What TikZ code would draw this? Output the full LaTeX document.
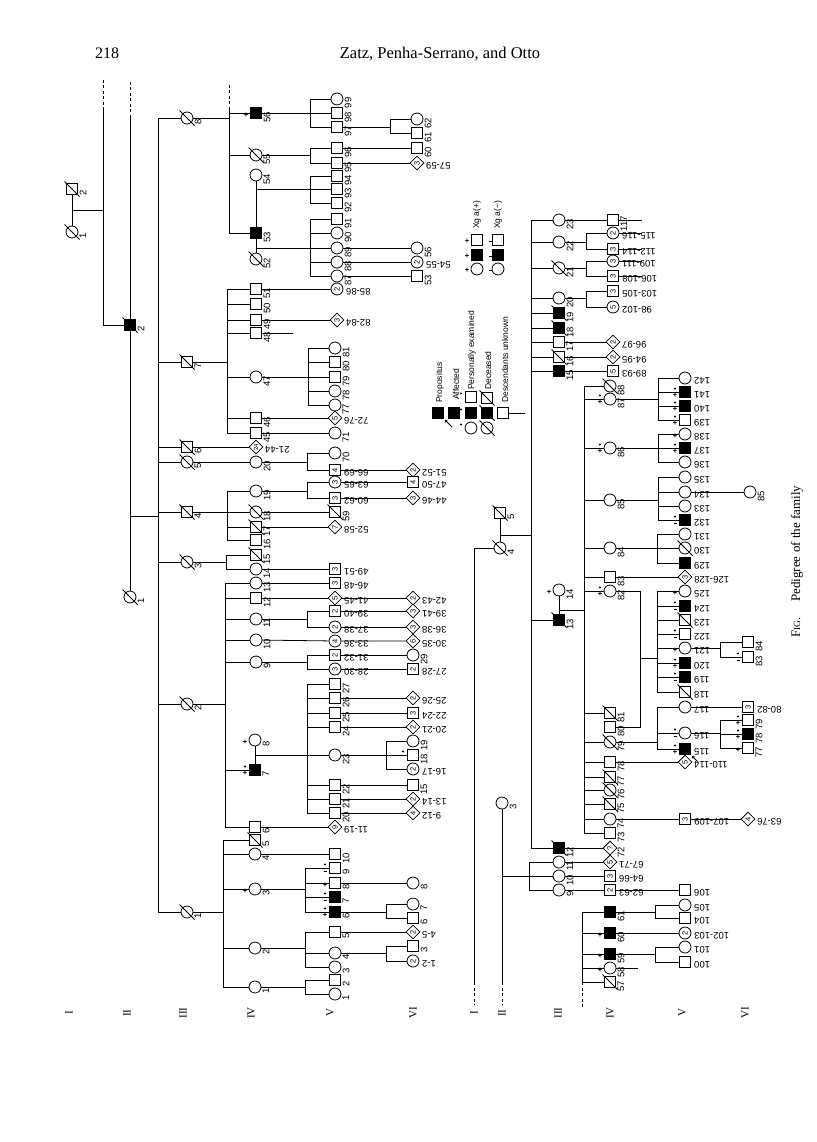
\documentclass[tikz,border=0pt]{standalone}
\usepackage{fontspec}
\setmainfont{Liberation Serif}
\newfontfamily\sansf{Liberation Sans}
\usetikzlibrary{shapes.geometric,arrows.meta}
\newcommand\lf{\sansf\fontsize{9.5}{10}\selectfont}
\newcommand\cf{\sansf\fontsize{7.5}{7.5}\selectfont}
\newcommand\mf{\sansf\bfseries\fontsize{7.5}{7.5}\selectfont}
\tikzset{
 ln/.style={line width=0.8pt},
 dsh/.style={line width=0.8pt, dash pattern=on 3pt off 2.5pt},
 base/.style={draw, line width=0.8pt, fill=white, inner sep=0pt, font=\cf, rotate=90},
 ma/.style={base, rectangle, minimum size=11pt},
 fe/.style={base, circle, minimum size=12pt},
 un/.style={base, diamond, minimum size=14pt},
 aff/.style={fill=black},
 lab/.style={font=\lf, rotate=90, anchor=north, inner sep=0pt},
 labr/.style={font=\lf, rotate=180, anchor=east, inner sep=0pt},
 gen/.style={font=\fontsize{11}{11}\selectfont, rotate=90, inner sep=0pt},
 leg/.style={font=\sansf\fontsize{8.5}{9}\selectfont, rotate=90, anchor=west, inner sep=0pt},
 mk/.style={font=\mf, inner sep=0pt},
}
% individual with label rotated 90
\newcommand\indv[5]{\node[#1] (#2) at (#3) {#4};\node[lab] (t#2) at ([xshift=7.5pt,yshift=-4pt]#2.center) {#5};}
% individual with label rotated 180
\newcommand\rng[5]{\node[#1] (#2) at (#3) {#4};\node[labr] (t#2) at ([xshift=9pt,yshift=-3pt]#2.center) {#5};}
\newcommand\dcd[1]{\draw[ln] ([shift={(-7.5pt,7.5pt)}]#1.center) -- ([shift={(7.5pt,-7.5pt)}]#1.center);}
\newcommand\dcdl[1]{\foreach \q in {#1}{\dcd{\q}}}
\newcommand\sib[4]{\draw[ln] (#1) -- (#1-|#2,0); \draw[ln] (#2,0|-#3) -- (#2,0|-#4);}
\newcommand\kids[2]{\foreach \kid in {#2}{\draw[ln] (#1,0|-\kid) -- (\kid);}}
\newcommand\mkP[1]{\node[mk] (p#1) at ([xshift=-10pt,yshift=-2pt]#1.center) {+};}
\newcommand\mkD[1]{\fill ([xshift=-10pt,yshift=3.5pt]#1.center) circle (1.2pt);}
\newcommand\mkDP[1]{\mkD{#1}\node[mk] (p#1) at ([xshift=-10pt,yshift=-3pt]#1.center) {+};}
\newcommand\mkDM[1]{\mkD{#1}\draw[line width=0.9pt] ([xshift=-11.5pt,yshift=-3pt]#1.center) -- ++(3pt,0);}
\begin{document}
\begin{tikzpicture}[x=1pt,y=-1pt]
\useasboundingbox (0,0) rectangle (816,1142);
\fill[white] (0,0) rectangle (816,1142);
% header and caption
\node[font=\fontsize{16}{16}\selectfont] (pg) at (107,53) {218};
\node[font=\fontsize{16.5}{16.5}\selectfont] (hd) at (440,54) {Zatz, Penha-Serrano, and Otto};
\node[rotate=90, anchor=west, inner sep=0pt, font=\fontsize{13}{13}\selectfont] (cap) at (797,638) {F{\fontsize{9.5}{9.5}\selectfont IG}.\hspace{1.2em}Pedigree of the family};
% generation labels
\node[gen] (ga1) at (69,1013) {I};
\node[gen] (ga2) at (127,1013) {II};
\node[gen] (ga3) at (183,1013) {III};
\node[gen] (ga4) at (251,1013) {IV};
\node[gen] (ga5) at (330,1013) {V};
\node[gen] (ga6) at (413,1013) {VI};
\node[gen] (gb1) at (474,1013) {I};
\node[gen] (gb2) at (502,1013) {II};
\node[gen] (gb3) at (558,1013) {III};
\node[gen] (gb4) at (610,1013) {IV};
\node[gen] (gb5) at (682,1013) {V};
\node[gen] (gb6) at (745,1013) {VI};

%%%%%%%%%%%% UPPER PEDIGREE %%%%%%%%%%%%
\indv{fe}{g1n1}{72,232}{}{1}
\indv{ma}{g1n2}{72,189}{}{2}
\draw[ln] (g1n2) -- (g1n1);
\coordinate (c1) at (72,210);
\draw[ln] (c1) -- (c1-|103,0);
\draw[dsh] (103,80) -- (103,110);
\draw[ln] (103,110) -- (103,325);
\indv{ma,aff}{g2n2}{130,325}{}{2}
\indv{fe}{g2n1}{130,597}{}{1}
\draw[ln] (103,325) -- (g2n2);
\draw[dsh] (130,82) -- (130,115);
\draw[ln] (130,115) -- (g2n2);
\draw[ln] (g2n2) -- (g2n1);
\coordinate (c2) at (130,516);
\draw[ln] (c2) -- (c2-|158,0);
\draw[ln] (158,118) -- (158,912);
\indv{fe}{g3n8}{187,118}{}{8}
\indv{ma}{g3n7}{187,362}{}{7}
\indv{ma}{g3n6}{187,447}{}{6}
\indv{fe}{g3n5}{187,462}{}{5}
\indv{ma}{g3n4}{187,512}{}{4}
\indv{fe}{g3n3}{187,562}{}{3}
\indv{fe}{g3n2}{187,704}{}{2}
\indv{fe}{g3n1}{187,912}{}{1}
\kids{158}{g3n8,g3n7,g3n6,g3n5,g3n4,g3n3,g3n2,g3n1}

% III-8
\draw[ln] (g3n8) -- (g3n8-|229,0);
\draw[dsh] (229,85) -- (229,110);
\draw[ln] (229,110) -- (229,233);
\indv{ma,aff}{g4n56}{256,113}{}{56}
\indv{fe}{g4n55}{256,155}{}{55}
\indv{fe}{g4n54}{256,175}{}{54}
\indv{ma,aff}{g4n53}{256,233}{}{53}
\indv{fe}{g4n52}{256,259}{}{52}
\kids{229}{g4n56,g4n55,g4n53}
\draw[ln] (g4n54) -- (g4n53) -- (g4n52);
\coordinate (m54) at (256,189);
\coordinate (m52) at (256,248);
\indv{fe}{g5n99}{337,99}{}{99}
\indv{ma}{g5n98}{337,113}{}{98}
\indv{ma}{g5n97}{337,127}{}{97}
\indv{ma}{g5n96}{337,148}{}{96}
\indv{ma}{g5n95}{337,163}{}{95}
\indv{ma}{g5n94}{337,176}{}{94}
\indv{ma}{g5n93}{337,189}{}{93}
\indv{ma}{g5n92}{337,203}{}{92}
\indv{ma}{g5n91}{337,219}{}{91}
\indv{fe}{g5n90}{337,233}{}{90}
\indv{fe}{g5n89}{337,248}{}{89}
\indv{fe}{g5n88}{337,262}{}{88}
\indv{fe}{g5n87}{337,276}{}{87}
\sib{g4n56}{310}{g5n99}{g5n97}\kids{310}{g5n99,g5n98,g5n97}
\sib{g4n55}{310}{g5n96}{g5n95}\kids{310}{g5n96,g5n95}
\sib{m54}{310}{g5n94}{g5n92}\kids{310}{g5n94,g5n93,g5n92}
\sib{m52}{310}{g5n91}{g5n87}\kids{310}{g5n91,g5n90,g5n89,g5n88,g5n87}
\indv{fe}{g6n62}{417,119}{}{62}
\indv{ma}{g6n61}{417,133}{}{61}
\indv{ma}{g6n60}{417,148}{}{60}
\rng{un}{g6r57}{417,163}{3}{57-59}
\indv{fe}{g6n56}{417,248}{}{56}
\rng{fe}{g6r54}{417,262}{2}{54-55}
\indv{ma}{g6n53}{417,276}{}{53}
\sib{g5n97}{390}{g6n62}{g6n61}\kids{390}{g6n62,g6n61}
\draw[ln] (g5n96) -- (g6n60);
\draw[ln] (g5n95) -- (g6r57);
\draw[ln] (g5n89) -- (g6n56);
\draw[ln] (g5n88) -- (g6r54);
\draw[ln] (g5n87) -- (g6n53);

% III-7
\indv{ma}{g4n51}{256,289}{}{51}
\indv{ma}{g4n50}{256,304}{}{50}
\indv{ma}{g4n49}{256,320}{}{49}
\indv{ma}{g4n48}{256,333}{}{48}
\indv{fe}{g4n47}{256,377}{}{47}
\indv{ma}{g4n46}{256,418}{}{46}
\indv{ma}{g4n45}{256,433}{}{45}
\sib{g3n7}{227}{g4n51}{g4n45}\kids{227}{g4n51,g4n50,g4n49,g4n48,g4n47,g4n46,g4n45}
\rng{fe}{g5r85}{337,289}{2}{85-86}
\rng{un}{g5r82}{337,320}{3}{82-84}
\draw[ln] (g4n51) -- (g5r85);
\draw[ln] (g4n49) -- (g5r82);
\draw[ln] (g4n48) -- (g4n48-|293,0);
\indv{fe}{g5n81}{335,348}{}{81}
\indv{ma}{g5n80}{335,362}{}{80}
\indv{ma}{g5n79}{335,377}{}{79}
\indv{fe}{g5n78}{335,391}{}{78}
\indv{fe}{g5n77}{335,405}{}{77}
\sib{g4n47}{308}{g5n81}{g5n77}\kids{308}{g5n81,g5n80,g5n79,g5n78,g5n77}
\rng{un}{g5r72}{335,418}{5}{72-76}
\indv{fe}{g5n71}{335,433}{}{71}
\draw[ln] (g4n46) -- (g5r72);
\draw[ln] (g4n45) -- (g5n71);

% III-6, III-5
\rng{un,font=\sansf\fontsize{6}{6}\selectfont}{g4r21}{256,447}{24}{21-44}
\draw[ln] (g3n6) -- (g4r21);
\indv{fe}{g4n20}{256,462}{}{20}
\draw[ln] (g3n5) -- (g4n20);
\indv{fe}{g5n70}{335,453}{}{70}
\rng{ma}{g5r66}{335,470}{4}{66-69}
\sib{g4n20}{307}{g5n70}{g5r66}\kids{307}{g5n70,g5r66}
\rng{un}{g6r51}{413,470}{2}{51-52}
\draw[ln] (g5r66) -- (g6r51);

% III-4
\indv{fe}{g4n19}{256,491}{}{19}
\indv{fe}{g4n18}{256,512}{}{18}
\indv{ma}{g4n17}{256,527}{}{17}
\indv{ma}{g4n16}{256,540}{}{16}
\sib{g3n4}{227}{g4n19}{g4n16}\kids{227}{g4n19,g4n18,g4n17,g4n16}
\rng{fe}{g5r63}{335,482}{3}{63-65}
\rng{ma}{g5r60}{335,498}{3}{60-62}
\sib{g4n19}{307}{g5r63}{g5r60}\kids{307}{g5r63,g5r60}
\rng{ma}{g6r47}{413,482}{4}{47-50}
\rng{un}{g6r44}{413,498}{3}{44-46}
\draw[ln] (g5r63) -- (g6r47);
\draw[ln] (g5r60) -- (g6r44);
\indv{ma}{g5n59}{335,512}{}{59}
\draw[ln] (g4n18) -- (g5n59);
\rng{un}{g5r52}{335,527}{7}{52-58}
\draw[ln] (g4n17) -- (g5r52);

% III-3
\indv{ma}{g4n15}{256,555}{}{15}
\indv{fe}{g4n14}{256,569}{}{14}
\sib{g3n3}{226}{g4n15}{g4n14}\kids{226}{g4n15,g4n14}
\rng{ma}{g5r49}{335,569}{3}{49-51}
\draw[ln] (g4n14) -- (g5r49);

% III-2
\indv{fe}{g4n13}{256,583}{}{13}
\indv{ma}{g4n12}{256,598}{}{12}
\indv{fe}{g4n11}{256,619}{}{11}
\indv{fe}{g4n10}{256,640}{}{10}
\indv{fe}{g4n9}{256,662}{}{9}
\indv{fe}{g4n8}{255,740}{}{8}
\indv{ma,aff}{g4n7}{255,770}{}{7}
\indv{ma}{g4n6}{255,827}{}{6}
\sib{g3n2}{225}{g4n13}{g4n6}\kids{225}{g4n13,g4n12,g4n11,g4n10,g4n9,g4n7,g4n6}
\rng{ma}{g5r46}{335,583}{3}{46-48}
\rng{un}{g5r41}{335,598}{5}{41-45}
\rng{un}{g6r42}{413,598}{2}{42-43}
\draw[ln] (g4n13) -- (g5r46);
\draw[ln] (g4n12) -- (g5r41) -- (g6r42);
\rng{ma}{g5r39}{335,611}{2}{39-40}
\rng{fe}{g5r37}{335,627}{2}{37-38}
\sib{g4n11}{307}{g5r39}{g5r37}\kids{307}{g5r39,g5r37}
\rng{un}{g6r39}{413,611}{3}{39-41}
\rng{un}{g6r36}{413,627}{3}{36-38}
\draw[ln] (g5r39) -- (g6r39);
\draw[ln] (g5r37) -- (g6r36);
\rng{fe}{g5r33}{335,641}{4}{33-36}
\rng{un}{g6r30}{413,641}{6}{30-35}
\draw[ln] (g4n10) -- (g5r33) -- (g6r30);
\rng{ma}{g5r31}{335,655}{2}{31-32}
\rng{fe}{g5r28}{335,669}{3}{28-30}
\sib{g4n9}{307}{g5r31}{g5r28}\kids{307}{g5r31,g5r28}
\indv{fe}{g6n29}{413,655}{}{29}
\rng{ma}{g6r27}{413,669}{2}{27-28}
\draw[ln] (g5r31) -- (g6n29);
\draw[ln] (g5r28) -- (g6r27);
\draw[ln] (g4n8) -- (g4n7);
\coordinate (m7) at (255,755);
\indv{ma}{g5n27}{335,684}{}{27}
\indv{ma}{g5n26}{335,698}{}{26}
\indv{ma}{g5n25}{335,713}{}{25}
\indv{ma}{g5n24}{335,727}{}{24}
\indv{fe}{g5n23}{335,755}{}{23}
\indv{ma}{g5n22}{335,785}{}{22}
\indv{ma}{g5n21}{335,799}{}{21}
\indv{ma}{g5n20}{335,813}{}{20}
\sib{m7}{307}{g5n27}{g5n20}\kids{307}{g5n27,g5n26,g5n25,g5n24,g5n23,g5n22,g5n21,g5n20}
\rng{un}{g6r25}{413,698}{2}{25-26}
\rng{ma}{g6r22}{413,713}{3}{22-24}
\rng{un}{g6r20}{413,727}{2}{20-21}
\draw[ln] (g5n26) -- (g6r25);
\draw[ln] (g5n25) -- (g6r22);
\draw[ln] (g5n24) -- (g6r20);
\indv{fe}{g6n19}{413,741}{}{19}
\indv{ma}{g6n18}{413,755}{}{18}
\rng{fe}{g6r16}{413,769}{2}{16-17}
\sib{g5n23}{386}{g6n19}{g6r16}\kids{386}{g6n19,g6n18,g6r16}
\indv{ma}{g6n15}{413,785}{}{15}
\rng{un}{g6r13}{413,799}{2}{13-14}
\rng{un}{g6r9}{413,813}{4}{9-12}
\draw[ln] (g5n22) -- (g6n15);
\draw[ln] (g5n21) -- (g6r13);
\draw[ln] (g5n20) -- (g6r9);
\rng{un}{g5r11}{335,827}{9}{11-19}
\draw[ln] (g4n6) -- (g5r11);

% III-1
\indv{ma}{g4n5}{255,840}{}{5}
\indv{fe}{g4n4}{255,854}{}{4}
\indv{fe}{g4n3}{255,889}{}{3}
\indv{fe}{g4n2}{255,948}{}{2}
\indv{fe}{g4n1}{255,987}{}{1}
\sib{g3n1}{223}{g4n5}{g4n1}\kids{223}{g4n5,g4n4,g4n3,g4n2,g4n1}
\indv{ma}{g5n10}{335,854}{}{10}
\draw[ln] (g4n4) -- (g5n10);
\indv{ma}{g5n9}{335,868}{}{9}
\indv{ma}{g5n8}{335,883}{}{8}
\indv{ma,aff}{g5n7}{335,897}{}{7}
\indv{ma,aff}{g5n6}{335,912}{}{6}
\sib{g4n3}{305}{g5n9}{g5n6}\kids{305}{g5n9,g5n8,g5n7,g5n6}
\indv{fe}{g6n8}{413,883}{}{8}
\draw[ln] (g5n8) -- (g6n8);
\indv{fe}{g6n7}{413,904}{}{7}
\indv{ma}{g6n6}{413,918}{}{6}
\sib{g5n6}{386}{g6n7}{g6n6}\kids{386}{g6n7,g6n6}
\indv{ma}{g5n5}{335,932}{}{5}
\indv{fe}{g5n4}{335,953}{}{4}
\indv{fe}{g5n3}{335,967}{}{3}
\sib{g4n2}{305}{g5n5}{g5n3}\kids{305}{g5n5,g5n4,g5n3}
\rng{un}{g6r4}{413,932}{2}{4-5}
\draw[ln] (g5n5) -- (g6r4);
\indv{ma}{g6n3}{413,946}{}{3}
\rng{fe}{g6r1}{413,961}{2}{1-2}
\sib{g5n4}{386}{g6n3}{g6r1}\kids{386}{g6n3,g6r1}
\indv{ma}{g5n2}{335,980}{}{2}
\indv{fe}{g5n1}{335,994}{}{1}
\sib{g4n1}{305}{g5n2}{g5n1}\kids{305}{g5n2,g5n1}

\dcdl{g1n1,g1n2,g2n2,g2n1,g3n8,g3n7,g3n6,g3n5,g3n4,g3n3,g3n2,g3n1,g4n55,g4n52,g4n18,g4n17,g4n15,g4n5,g5n59}
\mkP{g4n56}\mkP{g4n8}\mkDP{g4n7}\mkP{g4n3}
\mkDM{g5n9}\mkP{g5n8}\mkDM{g5n7}\mkDP{g5n6}\mkD{g6n18}

%%%%%%%%%%%% LOWER PEDIGREE %%%%%%%%%%%%
\indv{ma}{g2n5}{500,513}{}{5}
\indv{fe}{g2n4}{500,548}{}{4}
\indv{fe}{g2n3}{502,803}{}{3}
\draw[ln] (g2n5) -- (g2n4);
\draw[ln] (g2n4) -- (g2n4-|474,0) -- (474,982);
\draw[dsh] (474,982) -- (474,1005);
\draw[ln] (g2n3) -- (502,982);
\draw[dsh] (502,982) -- (502,1005);
\coordinate (m45) at (500,535);
\draw[ln] (m45) -- (m45-|531,0);
\draw[ln] (531,220) -- (531,848);
\coordinate (c3) at (502,876);
\draw[ln] (c3) -- (c3-|529,0);
\draw[ln] (529,862) -- (529,890);
\dcdl{g2n5,g2n4}

\indv{fe}{g3n23}{559,220}{}{23}
\indv{fe}{g3n22}{559,242}{}{22}
\indv{fe}{g3n21}{559,268}{}{21}
\indv{fe}{g3n20}{559,298}{}{20}
\indv{ma,aff}{g3n19}{559,313}{}{19}
\indv{ma,aff}{g3n18}{559,328}{}{18}
\indv{ma}{g3n17}{559,342}{}{17}
\indv{ma}{g3n16}{559,357}{}{16}
\indv{ma,aff}{g3n15}{559,371}{}{15}
\indv{fe}{g3n14}{559,590}{}{14}
\indv{ma,aff}{g3n13}{559,620}{}{13}
\indv{ma,aff}{g3n12}{559,848}{}{12}
\indv{fe}{g3n11}{559,862}{}{11}
\indv{fe}{g3n10}{559,876}{}{10}
\indv{fe}{g3n9}{559,890}{}{9}
\kids{531}{g3n23,g3n22,g3n21,g3n20,g3n19,g3n18,g3n17,g3n16,g3n15,g3n13,g3n12}
\kids{529}{g3n11,g3n10,g3n9}
\draw[ln] (g3n14) -- (g3n13);
\dcdl{g3n21,g3n19,g3n18,g3n16,g3n13,g3n12}
\mkP{g3n14}

% gen IV from upper sibs
\indv{ma}{g4n117}{613,220}{}{117}
\draw[ln] (g3n23) -- (g4n117) -- (g4n117-|642,0);
\rng{fe}{g4r115}{613,233}{2}{115-116}
\rng{ma}{g4r112}{613,249}{3}{112-114}
\sib{g3n22}{586}{g4r115}{g4r112}\kids{586}{g4r115,g4r112}
\draw[ln] (g4r115) -- (g4r115-|642,0);
\draw[ln] (g4r112) -- (g4r112-|642,0);
\rng{fe}{g4r109}{613,261}{3}{109-111}
\rng{ma}{g4r106}{613,276}{3}{106-108}
\sib{g3n21}{586}{g4r109}{g4r106}\kids{586}{g4r109,g4r106}
\draw[ln] (g4r109) -- (g4r109-|642,0);
\draw[ln] (g4r106) -- (g4r106-|642,0);
\rng{ma}{g4r103}{613,291}{3}{103-105}
\rng{fe}{g4r98}{613,307}{5}{98-102}
\sib{g3n20}{586}{g4r103}{g4r98}\kids{586}{g4r103,g4r98}
\rng{un}{g4r96}{613,342}{2}{96-97}
\rng{un}{g4r94}{613,357}{2}{94-95}
\rng{ma}{g4r89}{613,371}{5}{89-93}
\draw[ln] (g3n17) -- (g4r96);
\draw[ln] (g3n16) -- (g4r94);
\draw[ln] (g3n15) -- (g4r89);

% children of 13 x 14
\coordinate (m13) at (559,610);
\indv{fe}{g4n88}{610,386}{}{88}
\indv{fe}{g4n87}{610,399}{}{87}
\indv{fe}{g4n86}{610,448}{}{86}
\indv{fe}{g4n85}{610,500}{}{85}
\indv{fe}{g4n84}{610,548}{}{84}
\indv{ma}{g4n83}{610,577}{}{83}
\indv{fe}{g4n82}{610,591}{}{82}
\indv{ma}{g4n81}{610,713}{}{81}
\indv{ma}{g4n80}{610,727}{}{80}
\indv{fe}{g4n79}{610,742}{}{79}
\indv{ma}{g4n78}{610,762}{}{78}
\indv{ma}{g4n77}{610,777}{}{77}
\indv{fe}{g4n76}{610,790}{}{76}
\indv{ma}{g4n75}{610,804}{}{75}
\indv{fe}{g4n74}{610,819}{}{74}
\indv{ma}{g4n73}{610,833}{}{73}
\sib{m13}{584}{g4n88}{g4n73}
\kids{584}{g4n88,g4n87,g4n86,g4n85,g4n84,g4n83,g4n82,g4n81,g4n79,g4n78,g4n77,g4n76,g4n75,g4n74,g4n73}
\dcdl{g4n88,g4n81,g4n79,g4n77,g4n76,g4n75}
\mkDP{g4n87}\mkDP{g4n86}\mkDP{g4n82}

\rng{fe}{g5n142}{685,378}{}{142}
\rng{ma,aff}{g5n141}{685,392}{}{141}
\rng{ma,aff}{g5n140}{685,406}{}{140}
\rng{ma}{g5n139}{685,420}{}{139}
\sib{g4n87}{658}{g5n142}{g5n139}\kids{658}{g5n142,g5n141,g5n140,g5n139}
\rng{fe}{g5n138}{685,434}{}{138}
\rng{ma,aff}{g5n137}{685,448}{}{137}
\rng{fe}{g5n136}{685,462}{}{136}
\sib{g4n86}{658}{g5n138}{g5n136}\kids{658}{g5n138,g5n137,g5n136}
\rng{fe}{g5n135}{685,477}{}{135}
\rng{fe}{g5n134}{685,492}{}{134}
\rng{fe}{g5n133}{685,506}{}{133}
\rng{ma,aff}{g5n132}{685,520}{}{132}
\sib{g4n85}{658}{g5n135}{g5n132}\kids{658}{g5n135,g5n134,g5n133,g5n132}
\indv{fe}{g6n85}{750,492}{}{85}
\draw[ln] (g5n134) -- (g6n85);
\rng{fe}{g5n131}{685,534}{}{131}
\rng{fe}{g5n130}{685,548}{}{130}
\rng{ma,aff}{g5n129}{685,563}{}{129}
\sib{g4n84}{657}{g5n131}{g5n129}\kids{657}{g5n131,g5n130,g5n129}
\rng{un}{g5r126}{685,577}{3}{126-128}
\draw[ln] (g4n83) -- (g5r126);
\draw[ln] (g4n82) -- (g4n82-|640,0) -- (640,0|-g4n80) -- (g4n80);
\coordinate (m82) at (640,658);
\rng{fe}{g5n125}{685,591}{}{125}
\rng{ma,aff}{g5n124}{685,606}{}{124}
\rng{ma}{g5n123}{685,620}{}{123}
\rng{ma}{g5n122}{685,634}{}{122}
\rng{fe}{g5n121}{685,648}{}{121}
\rng{ma,aff}{g5n120}{685,663}{}{120}
\rng{ma,aff}{g5n119}{685,677}{}{119}
\rng{ma}{g5n118}{685,692}{}{118}
\sib{m82}{657}{g5n125}{g5n118}\kids{657}{g5n125,g5n124,g5n123,g5n122,g5n121,g5n120,g5n119,g5n118}
\indv{ma}{g6n84}{748,642}{}{84}
\indv{ma}{g6n83}{748,657}{}{83}
\sib{g5n121}{720}{g6n84}{g6n83}\kids{720}{g6n84,g6n83}
\rng{fe}{g5n117}{685,707}{}{117}
\rng{fe}{g5n116}{685,733}{}{116}
\rng{ma,aff}{g5n115}{685,749}{}{115}
\sib{g4n79}{657}{g5n117}{g5n115}\kids{657}{g5n117,g5n116,g5n115}
\rng{ma}{g6r80}{748,707}{3}{80-82}
\draw[ln] (g5n117) -- (g6r80);
\indv{ma}{g6n79}{748,720}{}{79}
\indv{ma,aff}{g6n78}{748,734}{}{78}
\indv{ma}{g6n77}{748,748}{}{77}
\sib{g5n116}{720}{g6n79}{g6n77}\kids{720}{g6n79,g6n78,g6n77}
\draw[-{Stealth[length=3.5pt,width=3pt]},ln] ([shift={(13pt,-13pt)}]g5n115.center) -- ([shift={(6.5pt,-6.5pt)}]g5n115.center);
\rng{un}{g5r110}{685,762}{5}{110-114}
\draw[ln] (g4n78) -- (g5r110);
\rng{ma}{g5r107}{685,819}{3}{107-109}
\rng{un}{g6r63}{748,819}{4}{63-76}
\draw[ln] (g4n74) -- (g5r107) -- (g6r63);
\dcdl{g5n130,g5n123,g5n118}
\mkDP{g5n141}\mkDP{g5n140}\mkDP{g5n139}\mkP{g5n138}\mkDP{g5n137}\mkDM{g5n132}
\mkP{g5n125}\mkDM{g5n124}\mkDM{g5n122}\mkP{g5n121}\mkDP{g5n120}\mkDM{g5n119}
\mkDM{g5n116}\mkDP{g5n115}
\mkDP{g6n79}\mkDP{g6n78}\mkP{g6n77}\mkDM{g6n83}

% children of 9-12
\indv{un}{g4n72}{610,848}{?}{72}
\rng{un}{g4r67}{610,862}{5}{67-71}
\rng{ma}{g4r64}{610,876}{3}{64-66}
\rng{ma}{g4r62}{610,890}{2}{62-63}
\rng{ma}{g5n106}{685,890}{}{106}
\draw[ln] (g3n12) -- (g4n72);
\draw[ln] (g3n11) -- (g4r67);
\draw[ln] (g3n10) -- (g4r64);
\draw[ln] (g3n9) -- (g4r62) -- (g5n106);

% sibship 57-61
\draw[ln] (582,912) -- (582,982);
\draw[dsh] (582,982) -- (582,1008);
\indv{ma,aff}{g4n61}{610,912}{}{61}
\indv{ma,aff}{g4n60}{610,933}{}{60}
\indv{ma,aff}{g4n59}{610,954}{}{59}
\indv{fe}{g4n58}{610,968}{}{58}
\indv{ma}{g4n57}{610,982}{}{57}
\kids{582}{g4n61,g4n60,g4n59,g4n58,g4n57}
\dcd{g4n57}
\mkP{g4n60}\mkP{g4n59}\mkP{g4n58}
\draw[ln] (g4n58) -- (g4n58-|638,0);
\rng{fe}{g5n105}{685,905}{}{105}
\rng{ma}{g5n104}{685,918}{}{104}
\sib{g4n61}{655}{g5n105}{g5n104}\kids{655}{g5n105,g5n104}
\rng{fe}{g5r102}{685,933}{2}{102-103}
\draw[ln] (g4n60) -- (g5r102);
\rng{fe}{g5n101}{685,947}{}{101}
\rng{ma}{g5n100}{685,962}{}{100}
\sib{g4n59}{655}{g5n101}{g5n100}\kids{655}{g5n101,g5n100}

%%%%%%%%%%%% LEGENDS %%%%%%%%%%%%
\node[ma] (xa1) at (477,240) {};
\node[ma,aff] (xa2) at (477,255) {};
\node[fe] (xa3) at (477,269) {};
\node[ma] (xb1) at (498,240) {};
\node[ma,aff] (xb2) at (498,255) {};
\node[fe] (xb3) at (498,269) {};
\node[mk] (xpa1) at (467,241) {+};
\node[mk] (xpa2) at (467,256) {+};
\node[mk] (xpa3) at (467,270) {+};
\draw[line width=0.9pt] (488.5,241) -- (491.5,241);
\draw[line width=0.9pt] (488.5,256) -- (491.5,256);
\draw[line width=0.9pt] (488.5,270) -- (491.5,270);
\node[leg] (xta) at (477,229) {Xg a(+)};
\node[leg] (xtb) at (498,229) {Xg a(−)};

\node[ma,aff] (lgP) at (438,413) {};
\draw[-{Stealth[length=3.5pt,width=3pt]},ln] ([shift={(14pt,-14pt)}]lgP.center) -- ([shift={(6.5pt,-6.5pt)}]lgP.center);
\node[ma,aff] (lgA) at (454,413) {};
\node[ma] (lgE1) at (471,397) {};
\node[ma,aff] (lgE2) at (471,413) {};
\node[fe] (lgE3) at (471,428) {};
\mkD{lgE1}\mkD{lgE2}\mkD{lgE3}
\node[ma] (lgD1) at (487,398) {};
\node[ma,aff] (lgD2) at (487,413) {};
\node[fe] (lgD3) at (487,428) {};
\dcdl{lgD1,lgD2,lgD3}
\node[ma] (lgU) at (503,413) {};
\draw[ln] (lgU) -- (lgU-|525,0);
\node[leg] (ltP) at (440,403) {Propositus};
\node[leg] (ltA) at (456,400) {Affected};
\node[leg] (ltE) at (472,390) {Personally examined};
\node[leg] (ltD) at (488,390) {Deceased};
\node[leg] (ltU) at (505,403) {Descendants unknown};
\end{tikzpicture}
\end{document}
